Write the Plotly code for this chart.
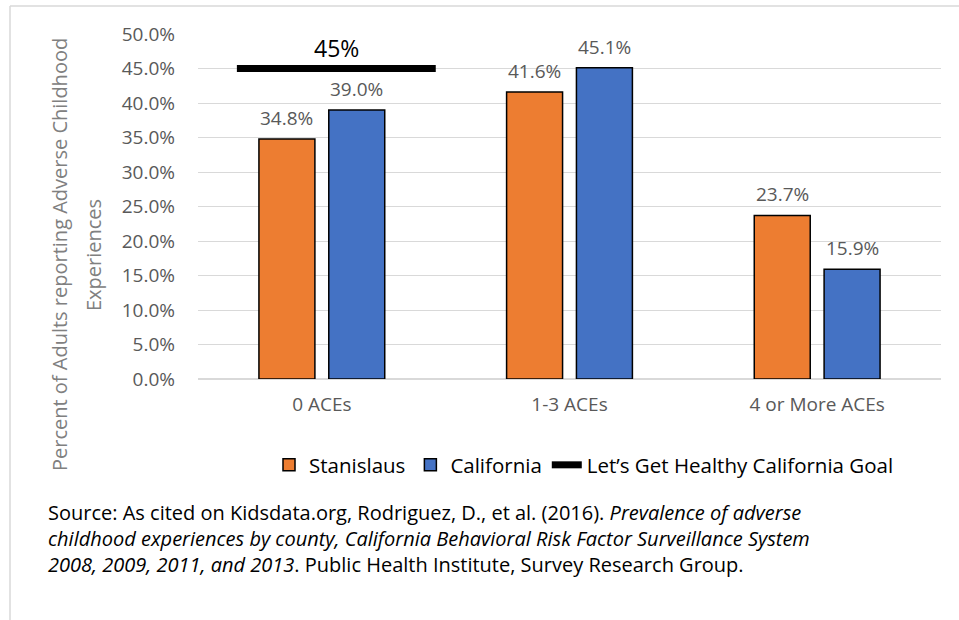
import plotly.graph_objects as go

# data
categories = ["0 ACEs", "1-3 ACEs", "4 or More ACEs"]
stanislaus = [0.348, 0.416, 0.237]
california = [0.390, 0.451, 0.159]
goal = 0.45
goal_label = "45%"
source_lines = [
    "Source: As cited on Kidsdata.org, Rodriguez, D., et al. (2016). <i>Prevalence of adverse</i>",
    "<i>childhood experiences by county, California Behavioral Risk Factor Surveillance System</i>",
    "<i>2008, 2009, 2011, and 2013</i>. Public Health Institute, Survey Research Group.",
]

W, H = 959, 620
ML, MR, MT, MB = 198, 18, 34, 241
pw = W - ML - MR
ph = H - MT - MB

def px_x(p):
    return (p - ML) / pw

def px_y(p):
    return (H - MB - p) / ph

orange = "#ED7D31"
blue = "#4472C4"
grey = "#595959"
tick_font = dict(family="Open Sans", size=19, color=grey)

bar_w = 0.226
xs = list(range(len(categories)))

fig = go.Figure()
fig.add_trace(go.Bar(x=xs, y=stanislaus, name="Stanislaus", width=bar_w, offset=-0.254,
                     marker=dict(color=orange, line=dict(color="black", width=1.5))))
fig.add_trace(go.Bar(x=xs, y=california, name="California", width=bar_w, offset=0.028,
                     marker=dict(color=blue, line=dict(color="black", width=1.5))))
fig.add_trace(go.Scatter(x=[-0.343, 0.46], y=[goal, goal], mode="lines",
                         name="Let\u2019s Get Healthy California Goal",
                         line=dict(color="black", width=7)))

# bar value labels
for i in xs:
    fig.add_annotation(x=i - 0.141, y=stanislaus[i], text=f"{stanislaus[i]*100:.1f}%",
                       showarrow=False, yshift=21, font=tick_font)
    fig.add_annotation(x=i + 0.141, y=california[i], text=f"{california[i]*100:.1f}%",
                       showarrow=False, yshift=21, font=tick_font)

fig.add_annotation(x=0.058, y=goal, text=goal_label, showarrow=False, yshift=21,
                   font=dict(family="Open Sans", size=23, color="black"))

# y axis title (two lines, wide Excel line spacing)
title_font = dict(family="Open Sans", size=20, color="#808080")
fig.add_annotation(xref="paper", yref="paper", x=px_x(59), y=px_y(255),
                   xanchor="center", yanchor="middle",
                   text="Percent of Adults reporting Adverse Childhood",
                   textangle=-90, showarrow=False, font=title_font)
fig.add_annotation(xref="paper", yref="paper", x=px_x(93), y=px_y(255),
                   xanchor="center", yanchor="middle",
                   text="Experiences", textangle=-90, showarrow=False, font=title_font)

# source, one annotation per line
for k, line in enumerate(source_lines):
    fig.add_annotation(xref="paper", yref="paper", x=px_x(46), y=px_y(512 + 26 * k),
                       xanchor="left", yanchor="middle", align="left", showarrow=False,
                       text=line, font=dict(family="Open Sans", size=20, color="black"))

# frame
border = dict(color="#d9d9d9", width=1.5)
fig.add_shape(type="line", xref="paper", yref="paper", x0=px_x(10), x1=px_x(W), y0=px_y(6), y1=px_y(6), line=border)
fig.add_shape(type="line", xref="paper", yref="paper", x0=px_x(10), x1=px_x(10), y0=px_y(6), y1=px_y(H), line=border)

fig.update_layout(
    width=W, height=H,
    margin=dict(l=ML, r=MR, t=MT, b=MB),
    plot_bgcolor="white", paper_bgcolor="white",
    showlegend=True,
    legend=dict(orientation="h", x=px_x(584), xanchor="center", y=px_y(465), yanchor="middle",
                font=dict(family="Open Sans", size=20.5, color="black"), traceorder="normal"),
    xaxis=dict(range=[-0.5, 2.5], tickvals=xs, ticktext=categories, showgrid=False,
               zeroline=False, showline=False, tickfont=tick_font, ticks="",
               ticklabelstandoff=12),
    yaxis=dict(range=[0, 0.5], dtick=0.05, tickformat=".1%", showgrid=True,
               gridcolor="#d9d9d9", gridwidth=1, zeroline=True, zerolinecolor="#d9d9d9",
               zerolinewidth=1.5, tickfont=tick_font, ticks="", ticklabelstandoff=22),
)

fig.write_html("out.html", config={"displayModeBar": False},
               post_script="document.body.style.margin='0';")
